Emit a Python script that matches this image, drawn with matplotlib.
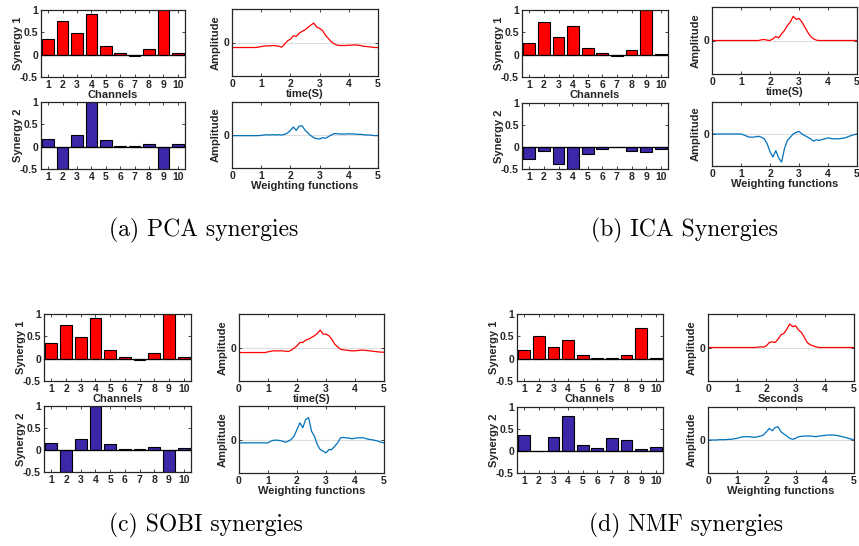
import matplotlib
matplotlib.use("Agg")
import matplotlib.pyplot as plt
import numpy as np

plt.rcParams['font.family'] = ['Liberation Sans', 'DejaVu Sans']
plt.rcParams['font.weight'] = 'bold'
plt.rcParams['axes.labelweight'] = 'bold'
plt.rcParams['axes.unicode_minus'] = False

# ---- Data ----
channels = np.arange(1, 11)

pca_syn1 = [0.35, 0.75, 0.49, 0.90, 0.20, 0.04, -0.02, 0.13, 1.00, 0.03]
pca_syn2 = [0.17, -0.50, 0.26, 1.00, 0.14, 0.02, 0.01, 0.06, -0.50, 0.05]
ica_syn1 = [0.27, 0.74, 0.39, 0.64, 0.14, 0.03, -0.02, 0.10, 1.00, 0.02]
ica_syn2 = [-0.27, -0.10, -0.39, -0.50, -0.17, -0.04, -0.01, -0.09, -0.12, -0.04]
sobi_syn1 = [0.34, 0.75, 0.49, 0.90, 0.20, 0.04, -0.02, 0.12, 1.00, 0.03]
sobi_syn2 = [0.17, -0.50, 0.26, 1.00, 0.14, 0.03, 0.02, 0.07, -0.50, 0.05]
nmf_syn1 = [0.20, 0.50, 0.25, 0.41, 0.09, 0.02, 0.02, 0.08, 0.69, 0.02]
nmf_syn2 = [0.37, 0.01, 0.32, 0.80, 0.14, 0.07, 0.30, 0.24, 0.04, 0.10]

time_s = np.linspace(0, 5, 51)

pca_w1 = [-0.15, -0.15, -0.15, -0.15, -0.15, -0.15, -0.15, -0.15, -0.15, -0.14,
          -0.12, -0.11, -0.10, -0.10, -0.09, -0.10, -0.11, -0.14, -0.05, 0.05,
          0.10, 0.20, 0.18, 0.28, 0.33, 0.38, 0.45, 0.52, 0.58, 0.46,
          0.42, 0.36, 0.22, 0.12, 0.02, -0.04, -0.08, -0.09, -0.09, -0.09,
          -0.08, -0.08, -0.07, -0.08, -0.09, -0.11, -0.12, -0.13, -0.14, -0.15,
          -0.15]
pca_w2 = [-0.02, -0.02, -0.02, -0.02, -0.02, -0.02, -0.02, -0.02, -0.02, -0.02,
          -0.01, 0.00, 0.01, 0.00, 0.01, 0.00, 0.01, 0.00, 0.02, 0.06,
          0.14, 0.24, 0.14, 0.27, 0.28, 0.15, 0.06, -0.02, -0.08, -0.11,
          -0.12, -0.08, -0.10, -0.05, 0.00, 0.04, 0.04, 0.03, 0.03, 0.03,
          0.04, 0.03, 0.03, 0.02, 0.02, 0.01, 0.00, 0.00, -0.01, -0.02,
          -0.02]
ica_w1 = [0.00, 0.00, 0.00, 0.00, 0.00, 0.00, 0.00, 0.00, 0.00, 0.00,
          0.00, 0.00, 0.00, 0.00, 0.00, 0.00, 0.00, 0.02, 0.03, 0.01,
          0.00, 0.05, 0.12, 0.08, 0.20, 0.30, 0.45, 0.55, 0.72, 0.63,
          0.66, 0.55, 0.40, 0.25, 0.12, 0.05, 0.01, 0.00, 0.00, 0.00,
          0.00, 0.00, 0.00, 0.00, 0.00, 0.00, 0.00, 0.00, 0.00, 0.00,
          0.00]
ica_w2 = [0.00, 0.00, 0.00, 0.00, 0.00, 0.00, 0.00, 0.00, 0.00, 0.00,
          0.00, -0.03, -0.07, -0.10, -0.10, -0.09, -0.07, -0.10, -0.15, -0.30,
          -0.55, -0.72, -0.52, -0.75, -0.88, -0.45, -0.20, -0.10, 0.00, 0.05,
          0.08, 0.00, -0.05, -0.10, -0.15, -0.22, -0.18, -0.20, -0.17, -0.15,
          -0.12, -0.14, -0.15, -0.15, -0.15, -0.13, -0.12, -0.08, -0.05, -0.02,
          0.00]
sobi_w1 = [-0.15, -0.15, -0.15, -0.15, -0.15, -0.15, -0.15, -0.15, -0.15, -0.15,
           -0.13, -0.11, -0.10, -0.10, -0.10, -0.10, -0.11, -0.12, -0.08, -0.02,
           0.05, 0.15, 0.15, 0.22, 0.25, 0.30, 0.35, 0.42, 0.52, 0.40,
           0.40, 0.35, 0.25, 0.10, 0.02, -0.05, -0.07, -0.08, -0.09, -0.10,
           -0.10, -0.09, -0.08, -0.08, -0.09, -0.10, -0.11, -0.12, -0.13, -0.14,
           -0.14]
sobi_w2 = [-0.10, -0.10, -0.10, -0.10, -0.10, -0.10, -0.10, -0.10, -0.10, -0.10,
           -0.10, -0.05, -0.02, -0.02, -0.03, -0.05, -0.08, -0.05, 0.00, 0.10,
           0.30, 0.50, 0.35, 0.60, 0.65, 0.25, 0.10, -0.15, -0.30, -0.35,
           -0.40, -0.30, -0.30, -0.20, -0.10, 0.05, 0.06, 0.05, 0.04, 0.02,
           0.04, 0.05, 0.05, 0.05, 0.02, 0.00, -0.01, -0.03, -0.05, -0.08,
           -0.10]
nmf_w1 = [0.00, 0.00, 0.00, 0.00, 0.00, 0.00, 0.00, 0.00, 0.00, 0.00,
          0.00, 0.00, 0.00, 0.00, 0.00, 0.00, 0.00, 0.01, 0.02, 0.01,
          0.05, 0.15, 0.17, 0.15, 0.25, 0.38, 0.42, 0.55, 0.70, 0.62,
          0.65, 0.52, 0.45, 0.30, 0.15, 0.08, 0.05, 0.02, 0.00, 0.00,
          0.00, 0.00, 0.00, 0.00, 0.00, 0.00, 0.00, 0.00, 0.00, 0.00,
          0.00]
nmf_w2 = [0.00, 0.00, 0.00, 0.00, 0.01, 0.01, 0.01, 0.02, 0.02, 0.04,
          0.05, 0.08, 0.10, 0.10, 0.10, 0.09, 0.08, 0.10, 0.12, 0.15,
          0.25, 0.35, 0.28, 0.38, 0.40, 0.25, 0.18, 0.12, 0.05, 0.02,
          0.05, 0.10, 0.11, 0.12, 0.12, 0.12, 0.11, 0.10, 0.12, 0.13,
          0.14, 0.15, 0.15, 0.15, 0.14, 0.12, 0.10, 0.08, 0.05, 0.03,
          0.00]

captions = ['(a) PCA synergies', '(b) ICA Synergies',
            '(c) SOBI synergies', '(d) NMF synergies']

RED = (1, 0, 0)
PURPLE = (0.2422, 0.1504, 0.6603)
BLUE = (0, 0.447, 0.741)
DARK = '0.15'

W, H = 859, 546
fig = plt.figure(figsize=(W / 100, H / 100), dpi=100)


def box(x0, y0, x1, y1):
    # pixel box (top-left origin) -> figure axes
    return fig.add_axes([x0 / W, 1 - y1 / H, (x1 - x0) / W, (y1 - y0) / H])


def style(ax):
    for s in ax.spines.values():
        s.set_color(DARK)
        s.set_linewidth(0.9)
    ax.tick_params(direction='in', top=True, right=True, length=2.5, width=0.6,
                   labelsize=7.5, pad=2.2, colors=DARK, labelcolor=DARK)


def bars(ax, vals, color, ylabel, xlabel=None):
    ax.bar(channels, vals, width=0.8, color=color, edgecolor='black', linewidth=0.8, zorder=2)
    ax.axhline(0, color='black', linewidth=0.9, zorder=3)
    ax.set_xlim(0.5, 10.5)
    ax.set_ylim(-0.5, 1)
    ax.set_xticks(channels)
    ax.set_yticks([-0.5, 0, 0.5, 1])
    ax.set_yticklabels(['-0.5', '0', '0.5', '1'])
    style(ax)
    ax.set_ylabel(ylabel, fontsize=8, color=DARK)
    w_px = ax.get_position().width * W
    ax.yaxis.set_label_coords(-18 / w_px, 0.5)
    if xlabel:
        ax.set_xlabel(xlabel, fontsize=8, color=DARK, labelpad=0)


def wave(ax, vals, color, xlabel):
    ax.axhline(0, color='0.87', linewidth=0.8, zorder=1)
    ax.plot(time_s, vals, color=color, linewidth=0.9, zorder=2)
    ax.set_xlim(0, 5)
    ax.set_ylim(-1, 1)
    ax.set_xticks(range(6))
    ax.set_yticks([0])
    style(ax)
    ax.set_ylabel('Amplitude', fontsize=8, color=DARK)
    w_px = ax.get_position().width * W
    ax.yaxis.set_label_coords(-11 / w_px, 0.5)
    ax.set_xlabel(xlabel, fontsize=8, color=DARK, labelpad=0)


# (a) PCA
bars(box(41, 10, 185, 77), pca_syn1, RED, 'Synergy 1', 'Channels')
bars(box(41, 102, 185, 169), pca_syn2, PURPLE, 'Synergy 2')
wave(box(232, 9, 378, 76), pca_w1, RED, 'time(S)')
wave(box(232, 102, 378, 168), pca_w2, BLUE, 'Weighting functions')

# (b) ICA
bars(box(522, 10, 668, 77), ica_syn1, RED, 'Synergy 1', 'Channels')
bars(box(522, 103, 668, 169), ica_syn2, PURPLE, 'Synergy 2')
wave(box(712, 7, 857, 74), ica_w1, RED, 'time(S)')
wave(box(712, 102, 857, 166), ica_w2, BLUE, 'Weighting functions')

# (c) SOBI
bars(box(44, 314, 191, 381), sobi_syn1, RED, 'Synergy 1', 'Channels')
bars(box(44, 406, 191, 472), sobi_syn2, PURPLE, 'Synergy 2')
wave(box(239, 314, 384, 381), sobi_w1, RED, 'time(S)')
wave(box(239, 406, 384, 473), sobi_w2, BLUE, 'Weighting functions')

# (d) NMF
bars(box(517, 314, 663, 381), nmf_syn1, RED, 'Synergy 1', 'Channels')
bars(box(517, 407, 663, 473), nmf_syn2, PURPLE, 'Synergy 2')
wave(box(708, 314, 854, 381), nmf_w1, RED, 'Seconds')
wave(box(708, 407, 854, 473), nmf_w2, BLUE, 'Weighting functions')

# captions
for (cx, cy), txt in zip([(204, 230), (684, 230), (206, 525), (686, 525)], captions):
    fig.text(cx / W, 1 - cy / H, txt, ha='center', va='center', fontsize=17,
             family='cmr10', weight='normal', color='black')

fig.savefig('out.png', dpi=100)
